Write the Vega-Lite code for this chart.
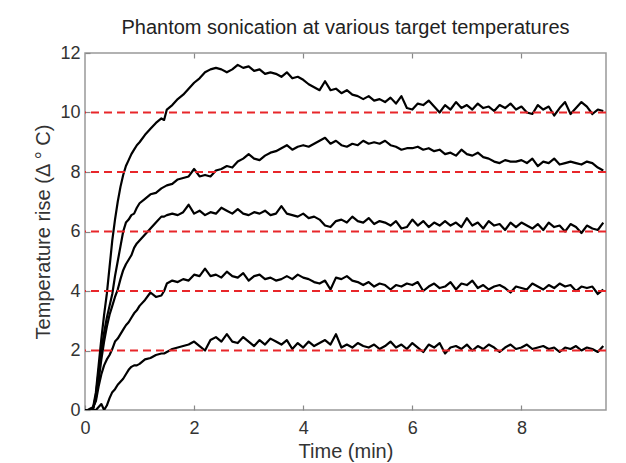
{
  "$schema": "https://vega.github.io/schema/vega-lite/v6.json",
  "width": 521,
  "height": 357,
  "autosize": "none",
  "padding": {"left": 85, "top": 53, "right": 20, "bottom": 53},
  "background": "white",
  "title": {"text": "Phantom sonication at various target temperatures", "font": "Liberation Sans", "fontSize": 20, "fontWeight": "normal", "color": "#222222", "offset": 6, "anchor": "middle"},
  "config": {
    "view": {"stroke": "#999999", "strokeWidth": 1.5},
    "axis": {"domain": false, "grid": false, "tickColor": "#888888", "tickSize": -5, "tickWidth": 1.2, "labelFont": "Liberation Sans", "labelFontSize": 18, "labelColor": "#333333", "titleFont": "Liberation Sans", "titleFontSize": 20, "titleFontWeight": "normal", "titleColor": "#333333", "labelFlush": false, "labelOverlap": false}
  },
  "datasets": {
    "curves": [
      {"t":0,"a":0,"b":0,"c":0,"d":0,"e":0},
      {"t":0.05,"a":0,"b":0,"c":0,"d":0,"e":0},
      {"t":0.1,"a":0.05,"b":0,"c":0,"d":0,"e":0},
      {"t":0.15,"a":0.1,"b":0.05,"c":0.05,"d":0.1,"e":0},
      {"t":0.2,"a":0.6,"b":0.5,"c":0.4,"d":0.3,"e":0},
      {"t":0.25,"a":1.5,"b":1.3,"c":1.0,"d":0.8,"e":0.1},
      {"t":0.3,"a":2.4,"b":2.0,"c":1.7,"d":1.2,"e":0.2},
      {"t":0.35,"a":3.2,"b":2.6,"c":2.3,"d":1.5,"e":0},
      {"t":0.4,"a":3.9,"b":3.1,"c":2.8,"d":1.7,"e":0.15},
      {"t":0.45,"a":4.8,"b":3.5,"c":3.2,"d":1.85,"e":0.4},
      {"t":0.5,"a":5.7,"b":3.9,"c":3.5,"d":2.05,"e":0.6},
      {"t":0.55,"a":6.4,"b":4.5,"c":3.8,"d":2.3,"e":0.7},
      {"t":0.6,"a":7.0,"b":5.0,"c":4.05,"d":2.4,"e":0.85},
      {"t":0.65,"a":7.5,"b":5.5,"c":4.4,"d":2.55,"e":0.95},
      {"t":0.7,"a":7.9,"b":6.0,"c":4.7,"d":2.7,"e":1.05},
      {"t":0.75,"a":8.2,"b":6.3,"c":4.9,"d":2.85,"e":1.2},
      {"t":0.8,"a":8.4,"b":6.4,"c":5.05,"d":2.95,"e":1.35},
      {"t":0.85,"a":8.6,"b":6.55,"c":5.2,"d":3.1,"e":1.45},
      {"t":0.9,"a":8.75,"b":6.6,"c":5.45,"d":3.25,"e":1.5},
      {"t":0.95,"a":8.9,"b":6.8,"c":5.6,"d":3.35,"e":1.5},
      {"t":1.0,"a":9.0,"b":6.95,"c":5.7,"d":3.5,"e":1.55},
      {"t":1.1,"a":9.25,"b":7.1,"c":5.9,"d":3.7,"e":1.7},
      {"t":1.2,"a":9.45,"b":7.25,"c":6.1,"d":3.95,"e":1.75},
      {"t":1.3,"a":9.65,"b":7.3,"c":6.3,"d":3.8,"e":1.85},
      {"t":1.4,"a":9.8,"b":7.45,"c":6.5,"d":3.85,"e":1.9},
      {"t":1.45,"a":9.75,"b":7.5,"c":6.5,"d":4.0,"e":1.9},
      {"t":1.5,"a":10.1,"b":7.55,"c":6.55,"d":4.25,"e":1.95},
      {"t":1.6,"a":10.25,"b":7.6,"c":6.6,"d":4.35,"e":2.05},
      {"t":1.7,"a":10.45,"b":7.75,"c":6.55,"d":4.3,"e":2.1},
      {"t":1.8,"a":10.6,"b":7.8,"c":6.65,"d":4.4,"e":2.15},
      {"t":1.9,"a":10.8,"b":7.85,"c":6.9,"d":4.35,"e":2.2},
      {"t":2.0,"a":11.0,"b":8.1,"c":6.6,"d":4.55,"e":2.3},
      {"t":2.1,"a":11.15,"b":7.85,"c":6.7,"d":4.5,"e":2.15},
      {"t":2.2,"a":11.35,"b":7.9,"c":6.55,"d":4.75,"e":2.0},
      {"t":2.3,"a":11.45,"b":7.85,"c":6.65,"d":4.5,"e":2.35},
      {"t":2.4,"a":11.5,"b":8.05,"c":6.6,"d":4.55,"e":2.45},
      {"t":2.5,"a":11.45,"b":8.1,"c":6.8,"d":4.45,"e":2.3},
      {"t":2.6,"a":11.35,"b":8.2,"c":6.7,"d":4.65,"e":2.55},
      {"t":2.7,"a":11.45,"b":8.15,"c":6.6,"d":4.5,"e":2.3},
      {"t":2.8,"a":11.6,"b":8.35,"c":6.75,"d":4.45,"e":2.25},
      {"t":2.9,"a":11.5,"b":8.45,"c":6.6,"d":4.6,"e":2.45},
      {"t":3.0,"a":11.55,"b":8.6,"c":6.55,"d":4.35,"e":2.3},
      {"t":3.1,"a":11.4,"b":8.45,"c":6.65,"d":4.5,"e":2.15},
      {"t":3.2,"a":11.45,"b":8.4,"c":6.6,"d":4.55,"e":2.35},
      {"t":3.3,"a":11.3,"b":8.55,"c":6.7,"d":4.4,"e":2.2},
      {"t":3.4,"a":11.35,"b":8.65,"c":6.55,"d":4.45,"e":2.4},
      {"t":3.5,"a":11.3,"b":8.7,"c":6.6,"d":4.35,"e":2.3},
      {"t":3.6,"a":11.2,"b":8.8,"c":6.85,"d":4.4,"e":2.2},
      {"t":3.7,"a":11.35,"b":8.9,"c":6.6,"d":4.5,"e":2.35},
      {"t":3.8,"a":11.15,"b":8.75,"c":6.55,"d":4.4,"e":2.05},
      {"t":3.9,"a":11.2,"b":8.85,"c":6.5,"d":4.55,"e":2.25},
      {"t":4.0,"a":11.1,"b":8.9,"c":6.6,"d":4.45,"e":2.1},
      {"t":4.1,"a":10.95,"b":8.85,"c":6.45,"d":4.4,"e":2.3},
      {"t":4.2,"a":10.85,"b":8.95,"c":6.5,"d":4.3,"e":2.15},
      {"t":4.3,"a":10.75,"b":9.05,"c":6.4,"d":4.25,"e":2.25},
      {"t":4.4,"a":11.05,"b":9.15,"c":6.2,"d":4.35,"e":2.35},
      {"t":4.5,"a":10.75,"b":8.95,"c":6.15,"d":4.05,"e":2.2},
      {"t":4.6,"a":10.8,"b":9.05,"c":6.35,"d":4.45,"e":2.55},
      {"t":4.7,"a":10.65,"b":8.9,"c":6.4,"d":4.4,"e":2.1},
      {"t":4.8,"a":10.75,"b":8.85,"c":6.3,"d":4.5,"e":2.2},
      {"t":4.9,"a":10.6,"b":8.95,"c":6.5,"d":4.35,"e":2.1},
      {"t":5.0,"a":10.55,"b":8.9,"c":6.35,"d":4.3,"e":2.25},
      {"t":5.1,"a":10.45,"b":9.05,"c":6.3,"d":4.2,"e":2.15},
      {"t":5.2,"a":10.55,"b":8.95,"c":6.45,"d":4.3,"e":2.1},
      {"t":5.3,"a":10.4,"b":9.0,"c":6.25,"d":4.15,"e":2.2},
      {"t":5.4,"a":10.45,"b":8.95,"c":6.35,"d":4.25,"e":2.05},
      {"t":5.5,"a":10.35,"b":9.05,"c":6.3,"d":4.2,"e":2.15},
      {"t":5.6,"a":10.5,"b":8.9,"c":6.2,"d":4.05,"e":2.3},
      {"t":5.7,"a":10.3,"b":8.85,"c":6.35,"d":4.2,"e":2.1},
      {"t":5.8,"a":10.55,"b":8.75,"c":6.1,"d":4.15,"e":2.2},
      {"t":5.9,"a":10.15,"b":8.8,"c":6.15,"d":4.25,"e":2.05},
      {"t":6.0,"a":10.1,"b":8.8,"c":6.4,"d":4.2,"e":2.25},
      {"t":6.1,"a":10.3,"b":8.85,"c":6.2,"d":4.3,"e":2.1},
      {"t":6.2,"a":10.25,"b":8.75,"c":6.35,"d":4.0,"e":1.95},
      {"t":6.3,"a":10.4,"b":8.8,"c":6.15,"d":4.15,"e":2.2},
      {"t":6.4,"a":10.2,"b":8.7,"c":6.3,"d":4.25,"e":2.1},
      {"t":6.5,"a":10.0,"b":8.75,"c":6.2,"d":4.1,"e":2.25},
      {"t":6.6,"a":10.25,"b":8.6,"c":6.35,"d":4.15,"e":1.9},
      {"t":6.7,"a":10.1,"b":8.65,"c":6.2,"d":4.3,"e":2.1},
      {"t":6.8,"a":10.35,"b":8.55,"c":6.3,"d":4.05,"e":2.15},
      {"t":6.9,"a":10.15,"b":8.75,"c":6.15,"d":4.25,"e":2.05},
      {"t":7.0,"a":10.25,"b":8.6,"c":6.45,"d":4.2,"e":2.2},
      {"t":7.1,"a":10.1,"b":8.55,"c":6.2,"d":4.35,"e":2.0},
      {"t":7.2,"a":10.3,"b":8.65,"c":6.3,"d":4.1,"e":2.15},
      {"t":7.3,"a":10.15,"b":8.5,"c":6.1,"d":4.2,"e":2.05},
      {"t":7.4,"a":10.2,"b":8.45,"c":6.35,"d":4.05,"e":2.2},
      {"t":7.5,"a":10.05,"b":8.35,"c":6.2,"d":4.15,"e":2.1},
      {"t":7.6,"a":10.25,"b":8.3,"c":6.25,"d":4.2,"e":1.95},
      {"t":7.7,"a":10.15,"b":8.4,"c":6.05,"d":4.1,"e":2.1},
      {"t":7.8,"a":10.3,"b":8.35,"c":6.3,"d":3.95,"e":2.2},
      {"t":7.9,"a":10.1,"b":8.35,"c":6.15,"d":4.15,"e":2.05},
      {"t":8.0,"a":10.2,"b":8.4,"c":6.3,"d":4.1,"e":2.1},
      {"t":8.1,"a":10.0,"b":8.3,"c":6.2,"d":4.05,"e":2.2},
      {"t":8.2,"a":9.95,"b":8.45,"c":6.1,"d":4.25,"e":2.05},
      {"t":8.3,"a":10.25,"b":8.2,"c":6.25,"d":4.15,"e":2.1},
      {"t":8.4,"a":10.1,"b":8.35,"c":6.05,"d":4.05,"e":2.15},
      {"t":8.5,"a":10.2,"b":8.3,"c":6.3,"d":4.2,"e":2.05},
      {"t":8.6,"a":9.9,"b":8.45,"c":6.15,"d":4.1,"e":2.1},
      {"t":8.7,"a":10.15,"b":8.25,"c":6.2,"d":4.25,"e":1.95},
      {"t":8.8,"a":10.35,"b":8.3,"c":6.0,"d":4.15,"e":2.1},
      {"t":8.9,"a":9.95,"b":8.35,"c":6.25,"d":4.2,"e":2.05},
      {"t":9.0,"a":10.15,"b":8.3,"c":6.15,"d":4.0,"e":2.15},
      {"t":9.1,"a":10.35,"b":8.25,"c":5.95,"d":4.15,"e":2.0},
      {"t":9.2,"a":10.2,"b":8.35,"c":6.2,"d":4.1,"e":2.1},
      {"t":9.3,"a":9.95,"b":8.3,"c":6.1,"d":4.15,"e":2.05},
      {"t":9.4,"a":10.1,"b":8.15,"c":6.05,"d":3.9,"e":1.95},
      {"t":9.5,"a":10.05,"b":8.05,"c":6.3,"d":4.05,"e":2.15}
    ],
    "targets": [{"target":2},{"target":4},{"target":6},{"target":8},{"target":10}]
  },
  "layer": [
    {
      "data": {"name": "curves"},
      "transform": [{"fold": ["a","b","c","d","e"], "as": ["series","temp"]}],
      "mark": {"type": "line", "color": "#000000", "strokeWidth": 2.2, "strokeJoin": "round", "clip": true},
      "encoding": {
        "x": {"field": "t", "type": "quantitative", "scale": {"domain": [0, 9.55], "nice": false, "zero": false}, "axis": {"values": [0,2,4,6,8], "title": "Time (min)", "labelPadding": 14, "titlePadding": 4}},
        "y": {"field": "temp", "type": "quantitative", "scale": {"domain": [0, 12], "nice": false}, "axis": {"values": [0,2,4,6,8,10,12], "title": "Temperature rise (Δ ° C)", "labelPadding": 10, "titlePadding": 6}},
        "detail": {"field": "series"}
      }
    },
    {
      "data": {"name": "curves"},
      "mark": {"type": "point", "opacity": 0},
      "encoding": {
        "x": {"field": "t", "type": "quantitative", "axis": {"orient": "top", "values": [2,4,6,8], "labels": false, "title": null}}
      }
    },
    {
      "data": {"name": "targets"},
      "mark": {"type": "rule", "color": "#e8262a", "strokeWidth": 2, "strokeDash": [8, 5]},
      "encoding": {
        "y": {"field": "target", "type": "quantitative"}
      }
    }
  ],
  "resolve": {"axis": {"x": "independent"}}
}
